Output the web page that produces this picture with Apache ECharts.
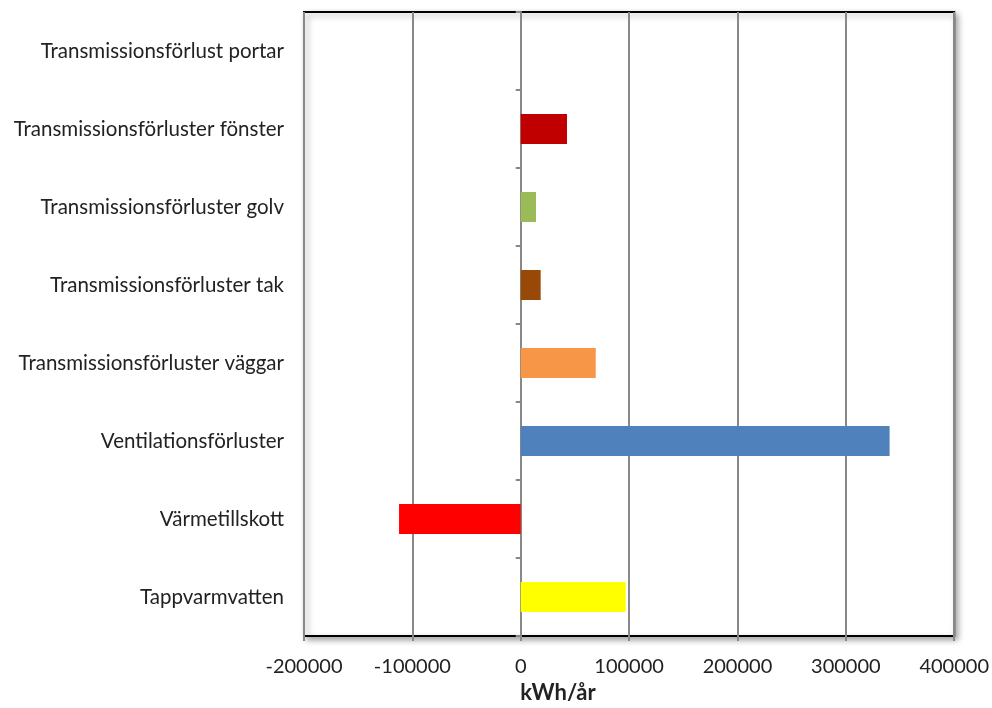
<!DOCTYPE html>
<html><head><meta charset="utf-8">
<script src="https://cdn.jsdelivr.net/npm/echarts@6/dist/echarts.min.js"></script>
<style>html,body{margin:0;padding:0;background:#fff}#c{width:992px;height:708px}</style>
</head><body><div id="c"></div>
<script>
const categories = ["Transmissionsförlust portar","Transmissionsförluster fönster","Transmissionsförluster golv","Transmissionsförluster tak","Transmissionsförluster väggar","Ventilationsförluster","Värmetillskott","Tappvarmvatten"];
const values = [0, 42700, 14100, 18400, 69200, 340400, -112300, 96900];
const barColors = ["#C0504D","#C00000","#9BBB59","#984807","#F79646","#4F81BD","#FF0000","#FFFF00"];
const xTicks = [-200000, -100000, 0, 100000, 200000, 300000, 400000];
const xTitle = "kWh/år";

const FONT = 'Lato';
const chart = echarts.init(document.getElementById('c'));
chart.setOption({
  animation: false,
  backgroundColor: '#fff',
  grid: {left: 304, right: 37, top: 12, bottom: 72, show: true, borderColor: '#000', borderWidth: 2,
    backgroundColor: '#fff', shadowColor: 'rgba(0,0,0,0.35)', shadowBlur: 6, shadowOffsetX: 3, shadowOffsetY: 3},
  xAxis: {type: 'value', min: xTicks[0], max: xTicks[xTicks.length-1], interval: 100000,
    axisLine: {show: false, onZero: false},
    axisTick: {show: true, length: 5, lineStyle: {color: '#888', width: 2}},
    axisLabel: {color: '#222', fontSize: 20, fontFamily: FONT, margin: 21, formatter: v => String(v)},
    splitLine: {show: true, lineStyle: {color: '#888', width: 2}}},
  yAxis: [
    {type: 'category', data: categories, inverse: true,
     axisLine: {show: false, onZero: false}, axisTick: {show: false},
     axisLabel: {color: '#222', fontSize: 20.5, fontFamily: FONT, margin: 20},
     splitLine: {show: false}},
    {type: 'category', data: categories, inverse: true, position: 'left',
     axisLine: {show: true, onZero: true, lineStyle: {color: '#888', width: 2}},
     axisTick: {show: true, length: 5, lineStyle: {color: '#888', width: 2}},
     axisLabel: {show: false}, splitLine: {show: false}}
  ],
  series: [{
    type: 'bar', yAxisIndex: 0, barWidth: 30,
    data: values.map((v, i) => ({value: v, itemStyle: {color: barColors[i]}}))
  }],
  graphic: [{type: 'text', x: 558, y: 693,
    style: {text: xTitle, fontSize: 22, fontWeight: 'bold', fontFamily: FONT, fill: '#222', align: 'center', verticalAlign: 'middle'}}]
});
</script></body></html>
